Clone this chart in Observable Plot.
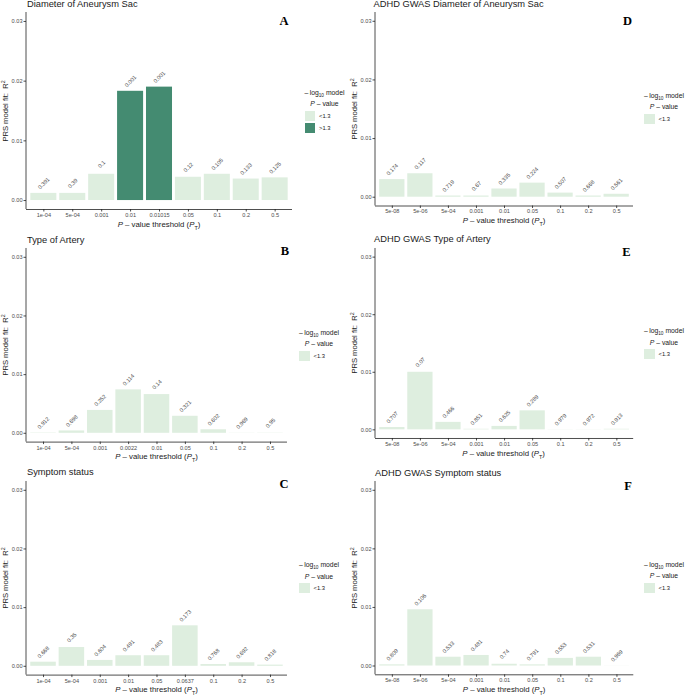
<!DOCTYPE html>
<html><head><meta charset="utf-8">
<script src="https://cdn.jsdelivr.net/npm/d3@7"></script>
<script src="https://cdn.jsdelivr.net/npm/@observablehq/plot@0.6"></script>
<style>
body{margin:0;background:#fff;}
#fig{position:relative;width:685px;height:695px;overflow:hidden;font-family:"Liberation Sans",Arial,sans-serif;background:#fff;}
.t{position:absolute;white-space:nowrap;line-height:1;color:#1a1a1a;}
sub,sup{font-size:70%;line-height:0;}
.leg{position:absolute;color:#1a1a1a;font-size:6.8px;white-space:nowrap;}
</style></head><body><div id="fig"></div><script>
// ---- data ----
const catsA = ["1e-04","5e-04","0.001","0.01","0.01015","0.05","0.1","0.2","0.5"];
const r2A   = [0.0012,0.0012,0.0044,0.0183,0.019,0.0039,0.0044,0.0036,0.0038];
const pA    = ["0.391","0.39","0.1","0.001","0.001","0.12","0.105","0.133","0.125"];

const catsB = ["1e-04","5e-04","0.001","0.0022","0.01","0.05","0.1","0.2","0.5"];
const r2B   = [0.00006,0.0004,0.0039,0.0074,0.0066,0.0029,0.0006,0.00003,0.00004];
const pB    = ["0.912","0.698","0.252","0.114","0.14","0.321","0.602","0.969","0.95"];

const catsC = ["1e-04","5e-04","0.001","0.01","0.05","0.0637","0.1","0.2","0.5"];
const r2C   = [0.0007,0.0032,0.001,0.0018,0.0018,0.0069,0.0003,0.0006,0.0002];
const pC    = ["0.668","0.35","0.604","0.491","0.483","0.173","0.768","0.692","0.818"];

const catsD = ["5e-08","5e-06","5e-04","0.001","0.01","0.05","0.1","0.2","0.5"];
const r2D   = [0.003,0.004,0.0002,0.0002,0.0014,0.0024,0.0007,0.0002,0.0005];
const pD    = ["0.174","0.117","0.719","0.67","0.335","0.224","0.507","0.668","0.561"];

const catsE = ["5e-08","5e-06","5e-04","0.001","0.01","0.05","0.1","0.2","0.5"];
const r2E   = [0.0004,0.01,0.0013,0.0001,0.0006,0.0033,0.00003,0.00003,0.0001];
const pE    = ["0.707","0.07","0.466","0.851","0.625","0.289","0.979","0.972","0.913"];

const catsF = ["5e-08","5e-06","5e-04","0.001","0.01","0.05","0.1","0.2","0.5"];
const r2F   = [0.0002,0.0096,0.0015,0.0018,0.0003,0.0002,0.0013,0.0015,0.00002];
const pF    = ["0.809","0.106","0.533","0.481","0.74","0.791","0.553","0.531","0.969"];

const groupLabels = ["<1.3", ">1.3"];
const groupColors = ["#deeedf", "#448b71"];
const yTicks = [0, 0.01, 0.02, 0.03];

// ---- layout ----
const panels = [
  {title:"Diameter of Aneurysm Sac", letter:"A", cats:catsA, r2:r2A, p:pA,
   L:26, R:292, T:12, B:209, tx:27, ty:4.8, lx:304.5, ly:92.7, ex:288.5, ey:21, yx:6},
  {title:"Type of Artery", letter:"B", cats:catsB, r2:r2B, p:pB,
   L:26, R:287, T:248.2, B:441.8, tx:27, ty:240.7, lx:299, ly:332.7, ex:289, ey:251, yx:6},
  {title:"Symptom status", letter:"C", cats:catsC, r2:r2C, p:pC,
   L:26, R:287, T:481.2, B:674.8, tx:27, ty:473.3, lx:299, ly:565, ex:288.5, ey:484, yx:6},
  {title:"ADHD GWAS Diameter of Aneurysm Sac", letter:"D", cats:catsD, r2:r2D, p:pD,
   L:375, R:633, T:12, B:205.5, tx:373.5, ty:4.8, lx:644, ly:95.3, ex:632, ey:21, yx:355},
  {title:"ADHD GWAS Type of Artery", letter:"E", cats:catsE, r2:r2E, p:pE,
   L:374.5, R:632.7, T:248, B:438, tx:374, ty:240, lx:644, ly:331, ex:630.5, ey:252, yx:355},
  {title:"ADHD GWAS Symptom status", letter:"F", cats:catsF, r2:r2F, p:pF,
   L:375, R:633.3, T:481.2, B:674.5, tx:375, ty:474.3, lx:644, ly:564.3, ex:632, ey:486, yx:355}
];

const fig = document.getElementById("fig");
function txt(html, x, y, css, anchor, rotate) {
  const d = document.createElement("div");
  d.className = "t";
  d.innerHTML = html;
  d.style.left = x + "px";
  d.style.top = y + "px";
  const tx = anchor === "start" ? "0" : anchor === "end" ? "-100%" : "-50%";
  d.style.transform = `translate(${tx},-50%)` + (rotate ? ` rotate(${rotate}deg)` : "");
  Object.assign(d.style, css);
  fig.appendChild(d);
  return d;
}

const yMin = -0.0015, yMax = 0.0315;
const mL = 26, mR = 3, mT = 2, mB = 12;

for (const p of panels) {
  const data = p.cats.map((c, i) => ({
    cat: c, r2: p.r2[i], lab: p.p[i],
    grp: -Math.log10(+p.p[i]) > 1.3 ? groupLabels[1] : groupLabels[0]
  }));
  const W = p.R - p.L + mL + mR;
  const H = p.B - p.T + mT + mB;
  const leftLine = (index, scales, values, dims) => {
    const l = document.createElementNS("http://www.w3.org/2000/svg", "line");
    l.setAttribute("x1", dims.marginLeft);
    l.setAttribute("x2", dims.marginLeft);
    l.setAttribute("y1", dims.marginTop);
    l.setAttribute("y2", dims.height - dims.marginBottom);
    l.setAttribute("stroke", "#222");
    l.setAttribute("stroke-width", 0.8);
    return l;
  };
  const chart = Plot.plot({
    width: W, height: H,
    marginLeft: mL, marginRight: mR, marginTop: mT, marginBottom: mB,
    style: {fontSize: "5.6px", fontFamily: "Liberation Sans, Arial, sans-serif", color: "#4d4d4d", background: "transparent", overflow: "visible"},
    x: {domain: p.cats, paddingInner: 0.1, paddingOuter: 0.15, round: false, tickSize: 2.5, tickPadding: 1, label: null},
    y: {domain: [yMin, yMax], ticks: yTicks, tickFormat: d3.format(".2f"), tickSize: 2.5, tickPadding: 1.5, label: null},
    color: {domain: groupLabels, range: groupColors},
    marks: [
      Plot.barY(data, {x: "cat", y: "r2", fill: "grp"}),
      Plot.text(data, {x: "cat", y: "r2", text: "lab", rotate: -45, dy: -10, fontSize: 5.6, fill: "#4d4d4d"}),
      Plot.ruleY([yMin], {stroke: "#222", strokeWidth: 0.8}),
      leftLine
    ]
  });
  const wrap = document.createElement("div");
  wrap.style.position = "absolute";
  wrap.style.left = (p.L - mL) + "px";
  wrap.style.top = (p.T - mT) + "px";
  wrap.style.width = W + "px";
  wrap.appendChild(chart);
  fig.appendChild(wrap);

  // title
  txt(p.title, p.tx, p.ty, {fontSize: "9.3px"}, "start");
  // panel letter
  txt(p.letter, p.ex, p.ey, {fontSize: "12.5px", fontWeight: "bold", fontFamily: "'Liberation Serif','DejaVu Serif',serif", color: "#000"}, "end");
  // x title
  txt("<i>P</i> – value threshold (<i>P</i><sub>T</sub>)", (p.L + p.R) / 2, p.B + 15.5, {fontSize: "7.8px"}, "middle");
  // y title
  txt("PRS model fit: &nbsp;R<sup>2</sup>", p.yx, (p.T + p.B) / 2, {fontSize: "7.6px"}, "middle", -90);
  // legend
  const present = groupLabels.filter(g => data.some(d => d.grp === g));
  const leg = document.createElement("div");
  leg.className = "leg";
  leg.style.left = p.lx + "px";
  leg.style.top = (p.ly - 5.65) + "px";
  let html = `<div style="text-align:center;line-height:11.3px">–&thinsp;log<sub>10</sub> model<br><i>P</i> – value</div><div style="margin-top:1.4px">`;
  for (const g of present) {
    const c = groupColors[groupLabels.indexOf(g)];
    html += `<div style="display:flex;align-items:center;height:10px;margin-bottom:1.5px"><span style="display:inline-block;width:10.5px;height:10px;background:${c}"></span><span style="font-size:5.8px;margin-left:4px">${g.replace("<","&lt;").replace(">","&gt;")}</span></div>`;
  }
  html += "</div>";
  leg.innerHTML = html;
  fig.appendChild(leg);
}
</script></body></html>
